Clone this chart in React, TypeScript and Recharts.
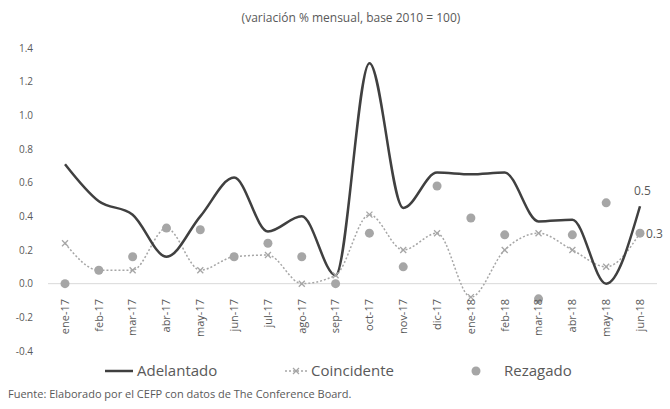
import { ComposedChart, Line, XAxis, YAxis, ReferenceLine, Legend, LabelList } from "recharts"

const months = [
  "ene-17", "feb-17", "mar-17", "abr-17", "may-17", "jun-17", "jul-17", "ago-17", "sep-17",
  "oct-17", "nov-17", "dic-17", "ene-18", "feb-18", "mar-18", "abr-18", "may-18", "jun-18",
]
const adelantado = [0.71, 0.49, 0.41, 0.16, 0.4, 0.63, 0.31, 0.4, 0.05, 1.31, 0.45, 0.66, 0.65, 0.66, 0.37, 0.38, 0.0, 0.46]
const coincidente = [0.24, 0.08, 0.08, 0.33, 0.08, 0.16, 0.17, 0.0, 0.05, 0.41, 0.2, 0.3, -0.08, 0.2, 0.3, 0.2, 0.1, 0.3]
const rezagado = [0.0, 0.08, 0.16, 0.33, 0.32, 0.16, 0.24, 0.16, 0.0, 0.3, 0.1, 0.58, 0.39, 0.29, -0.09, 0.29, 0.48, 0.3]
const yTicks = [-0.4, -0.2, 0, 0.2, 0.4, 0.6, 0.8, 1.0, 1.2, 1.4]

const data = months.map((m, i) => ({
  mes: m,
  adelantado: adelantado[i],
  coincidente: coincidente[i],
  rezagado: rezagado[i],
}))

const font = "'Open Sans', sans-serif"
const textColor = "#595959"
const dark = "#404040"
const light = "#a6a6a6"

const MonthTick = (props: any) => {
  const { x, y, payload } = props
  const ty = y - 60
  return (
    <text
      x={x}
      y={ty}
      transform={`rotate(-90 ${x} ${ty})`}
      textAnchor="end"
      dy="0.35em"
      fontSize={11}
      fontFamily={font}
      fill={textColor}
    >
      {payload.value}
    </text>
  )
}

const CrossDot = (props: any) => {
  const { cx, cy } = props
  if (cx == null || cy == null) return null
  const s = 3
  return (
    <g stroke={light} strokeWidth={1.3}>
      <line x1={cx - s} y1={cy - s} x2={cx + s} y2={cy + s} />
      <line x1={cx - s} y1={cy + s} x2={cx + s} y2={cy - s} />
    </g>
  )
}

const LegendContent = () => (
  <div style={{ position: "relative", height: 22, fontFamily: font, fontSize: 15, color: textColor }}>
    <svg width={670} height={22} style={{ position: "absolute", left: 0, top: 0 }}>
      <line x1={105} y1={11} x2={133} y2={11} stroke={dark} strokeWidth={2.5} />
      <line x1={285} y1={11} x2={307} y2={11} stroke={light} strokeWidth={1.5} strokeDasharray="2 2" />
      <CrossDot cx={296} cy={11} />
      <circle cx={476} cy={11} r={4.5} fill={light} />
    </svg>
    <span style={{ position: "absolute", left: 137, top: 0 }}>Adelantado</span>
    <span style={{ position: "absolute", left: 311, top: 0 }}>Coincidente</span>
    <span style={{ position: "absolute", left: 504, top: 0 }}>Rezagado</span>
  </div>
)

export default function App() {
  return (
    <div style={{ position: "absolute", left: 0, top: 0, width: 670, height: 409, background: "#fff", fontFamily: font }}>
      <div style={{ position: "absolute", top: 9, left: 0, width: 702, textAlign: "center", fontSize: 12, color: textColor }}>
        (variación % mensual, base 2010 = 100)
      </div>
      <ComposedChart width={670} height={409} data={data} margin={{ top: 48, right: 13, bottom: 57, left: 0 }}>
        <XAxis
          dataKey="mes"
          axisLine={false}
          tickLine={false}
          height={1}
          interval={0}
          padding={{ left: 17, right: 17 }}
          tick={<MonthTick />}
        />
        <YAxis
          domain={[-0.4, 1.4]}
          ticks={yTicks}
          width={48}
          axisLine={false}
          tickLine={false}
          tickSize={0}
          tickMargin={15}
          tickFormatter={(v: number) => v.toFixed(1)}
          tick={{ fontSize: 10, fill: textColor, fontFamily: font }}
        />
        <ReferenceLine y={0} stroke="#d9d9d9" strokeWidth={1} />
        <Line
          type="monotone"
          dataKey="coincidente"
          stroke={light}
          strokeWidth={1.5}
          strokeDasharray="2 2"
          dot={<CrossDot />}
          activeDot={false}
          isAnimationActive={false}
        />
        <Line
          type="monotone"
          dataKey="adelantado"
          stroke={dark}
          strokeWidth={2.5}
          dot={false}
          activeDot={false}
          isAnimationActive={false}
        >
          <LabelList
            dataKey="adelantado"
            content={(p: any) =>
              p.index === months.length - 1 ? (
                <text x={p.x - 6} y={p.y - 11} fontSize={12} fontFamily={font} fill={textColor}>
                  0.5
                </text>
              ) : null
            }
          />
        </Line>
        <Line
          type="monotone"
          dataKey="rezagado"
          stroke="none"
          dot={{ r: 4.5, fill: light, stroke: "none" }}
          activeDot={false}
          isAnimationActive={false}
        >
          <LabelList
            dataKey="rezagado"
            content={(p: any) =>
              p.index === months.length - 1 ? (
                <text x={p.x + 6} y={p.y + 5} fontSize={12} fontFamily={font} fill={textColor}>
                  0.3
                </text>
              ) : null
            }
          />
        </Line>
        <Legend
          layout="horizontal"
          verticalAlign="middle"
          align="center"
          content={<LegendContent />}
          wrapperStyle={{ position: "absolute", top: 360, left: 0, width: 670 }}
        />
      </ComposedChart>
      <div style={{ position: "absolute", top: 386, left: 8, fontSize: 11, color: textColor }}>
        Fuente: Elaborado por el CEFP con datos de The Conference Board.
      </div>
    </div>
  )
}
